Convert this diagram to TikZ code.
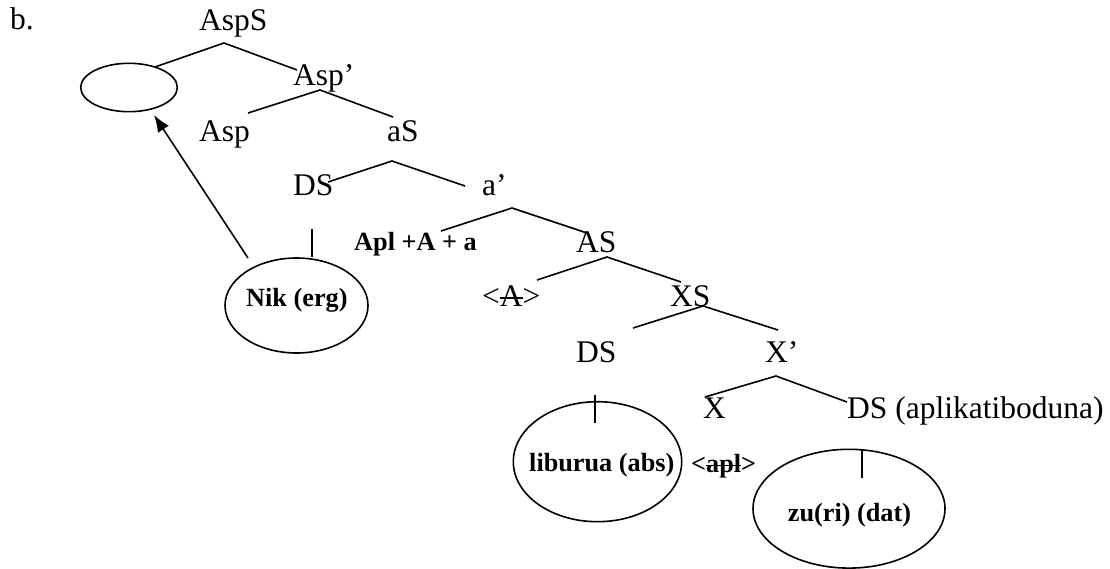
\documentclass[tikz,border=0pt]{standalone}
\usepackage{fontspec}
\setmainfont{Liberation Serif}
\usetikzlibrary{shapes.geometric,arrows.meta}
% struck-through text
\newcommand\strk[1]{\setbox0=\hbox{#1}\rlap{\vrule height\dimexpr0.55ex+0.6pt\relax depth\dimexpr-0.55ex+0.6pt\relax width\wd0}\box0}
\begin{document}
\begin{tikzpicture}[x=1pt,y=-1pt,
  lbl/.style={inner sep=0pt,anchor=base west,font=\fontsize{31.5}{36}\selectfont},
  blbl/.style={inner sep=0pt,anchor=base west,font=\fontsize{26.25}{30}\selectfont\bfseries},
  branch/.style={line width=1.6pt},
  tick/.style={line width=1.1pt},
  oval/.style={draw,ellipse,line width=1.6pt,inner sep=0pt},
  mover/.style={line width=1.6pt,-{Latex[length=17pt,width=13pt]}}]
\useasboundingbox (0,0) rectangle (1110,569);

% labels
\node[lbl] (b)    at (10,30)  {b.};
\node[lbl] (AspS) at (199,31) {AspS};
\node[lbl] (AspP) at (293,86) {Asp'};
\node[lbl] (Asp)  at (199,142) {Asp};
\node[lbl] (aS)   at (387,142) {aS};
\node[lbl] (DSa)  at (293,196) {DS};
\node[lbl] (aP)   at (482,196) {a'};
\node[blbl] (Apl) at (354,251) {Apl +A + a};
\node[lbl] (AS)   at (576,252) {AS};
\node[lbl] (Atr)  at (482,306) {<\strk{A}>};
\node[lbl] (XS)   at (670,306) {XS};
\node[lbl] (DSb)  at (576,362) {DS};
\node[lbl] (XP)   at (765,362) {X'};
\node[lbl] (X)    at (703,418) {X};
\node[lbl] (DSc)  at (847,418) {DS (aplikatiboduna)};
\node[blbl] (aplTr) at (691,472) {<\strk{apl}>};

% ovals
\node[oval,minimum width=96.6pt,minimum height=48.4pt] (spec) at (129,87.5) {};
\node[oval,minimum width=143pt,minimum height=95pt] (nikO) at (296.5,305.5) {};
\node[blbl] (nik) at (246,306) {Nik (erg)};
\node[oval,minimum width=168.4pt,minimum height=120pt] (libO) at (597.5,461.7) {};
\node[blbl] (lib) at (529,471.7) {liburua (abs)};
\node[oval,minimum width=192pt,minimum height=118.8pt] (zuO) at (849,508.7) {};
\node[blbl] (zu) at (787.7,521) {zu(ri) (dat)};

% branching points
\coordinate (AspS-b) at (224,43);  \coordinate (AspS-l) at (155,67);  \coordinate (AspS-r) at (297,70);
\coordinate (AspP-b) at (320,90);  \coordinate (AspP-l) at (248,113); \coordinate (AspP-r) at (393,117);
\coordinate (aS-b)   at (392,161); \coordinate (aS-l)   at (328,182); \coordinate (aS-r)   at (465,186);
\coordinate (aP-b)   at (512,208); \coordinate (aP-l)   at (441,231); \coordinate (aP-r)   at (587,233);
\coordinate (AS-b)   at (607,257); \coordinate (AS-l)   at (537,280); \coordinate (AS-r)   at (681,282);
\coordinate (XS-b)   at (703,306); \coordinate (XS-l)   at (633,328); \coordinate (XS-r)   at (778,330);
\coordinate (XP-b)   at (776,376); \coordinate (XP-l)   at (705,397); \coordinate (XP-r)   at (847,402);

\draw[branch] (AspS-l) -- (AspS-b) -- (AspS-r);
\draw[branch] (AspP-l) -- (AspP-b) -- (AspP-r);
\draw[branch] (aS-l) -- (aS-b) -- (aS-r);
\draw[branch] (aP-l) -- (aP-b) -- (aP-r);
\draw[branch] (AS-l) -- (AS-b) -- (AS-r);
\draw[branch] (XS-l) -- (XS-b) -- (XS-r);
\draw[branch] (XP-l) -- (XP-b) -- (XP-r);

% phrase-to-filler ticks
\coordinate (DSa-t) at (312,229); \coordinate (DSa-u) at (312,257);
\coordinate (DSb-t) at (595,395); \coordinate (DSb-u) at (595,423);
\coordinate (DSc-t) at (862,450); \coordinate (DSc-u) at (862,478);
\draw[tick] (DSa-t) -- (DSa-u);
\draw[tick] (DSb-t) -- (DSb-u);
\draw[branch] (DSc-t) -- (DSc-u);

% movement of the subject
\coordinate (mv-s) at (248,258);
\coordinate (mv-e) at (154,115);
\draw[mover] (mv-s) -- (mv-e);
\end{tikzpicture}
\end{document}
